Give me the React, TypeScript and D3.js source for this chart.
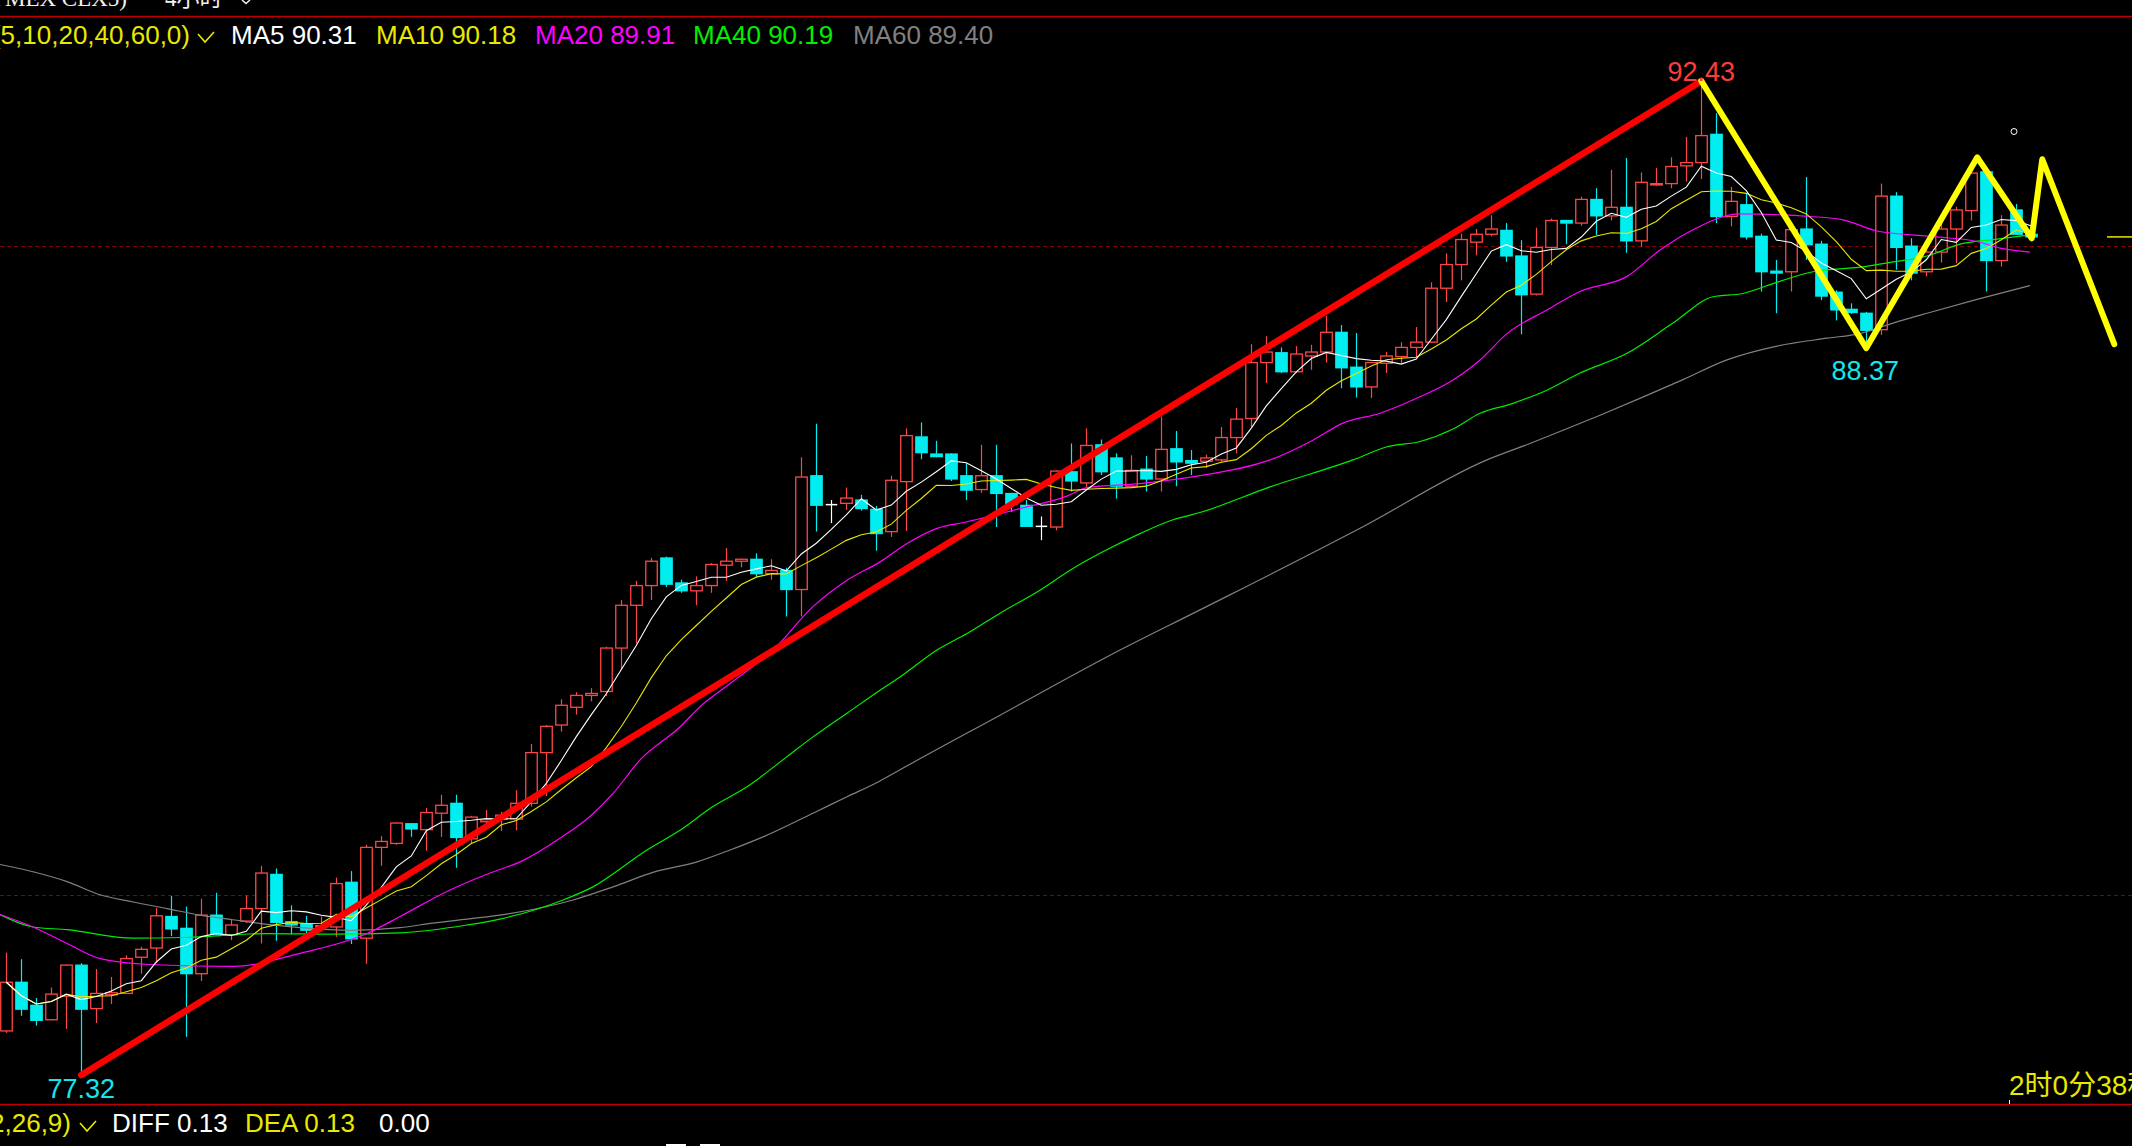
import React from "react";
import * as d3 from "d3";

const W = 2132;
const H = 1146;

// ---- candle data (index 0..135) ----
const opens = [
  77.99, 78.73, 78.38, 78.16, 78.52, 78.99, 78.33, 78.54, 78.56, 79.11,
  79.25, 79.73, 79.55, 78.86, 79.75, 79.45, 79.66, 79.85, 80.37, 79.65,
  79.62, 79.57, 79.57, 80.25, 79.40, 80.78, 80.84, 81.14, 81.05, 81.30,
  81.45, 80.91, 81.17, 81.21, 81.21, 81.45, 82.22, 82.64, 82.91, 83.09,
  83.15, 83.81, 84.46, 84.76, 85.18, 84.80, 84.68, 84.76, 85.07, 85.13,
  85.16, 84.94, 84.99, 84.70, 86.43, 85.99, 86.01, 86.06, 85.92, 85.58,
  86.34, 87.02, 86.76, 86.76, 86.43, 86.22, 86.43, 86.16, 85.98, 85.66,
  85.65, 86.49, 86.32, 86.90, 86.70, 86.27, 86.53, 86.38, 86.84, 86.66,
  86.65, 86.67, 87.01, 87.30, 88.15, 88.30, 88.01, 88.25, 88.31, 88.61,
  88.08, 87.78, 88.14, 88.24, 88.38, 88.46, 89.28, 89.64, 89.98, 90.10,
  90.16, 89.77, 89.19, 89.90, 90.31, 90.27, 90.63, 90.38, 90.51, 90.00,
  90.85, 90.87, 91.14, 91.19, 91.62, 90.37, 90.55, 90.07, 89.54, 89.53,
  90.18, 89.95, 89.22, 88.96, 88.90, 88.65, 90.68, 89.92, 89.53, 89.83,
  90.18, 90.46, 91.05, 89.70, 90.47, 90.10,
];
const highs = [
  79.18, 79.08, 78.49, 78.65, 79.00, 79.02, 78.93, 78.81, 79.14, 79.27,
  79.86, 80.04, 79.88, 80.00, 80.09, 79.68, 80.05, 80.50, 80.46, 79.90,
  79.74, 79.73, 80.32, 80.42, 80.82, 80.95, 81.16, 81.15, 81.38, 81.58,
  81.58, 81.26, 81.35, 81.32, 81.65, 82.35, 82.64, 83.03, 83.14, 83.20,
  83.83, 84.54, 84.83, 85.18, 85.20, 84.85, 84.90, 85.10, 85.33, 85.17,
  85.25, 85.16, 85.03, 86.71, 87.22, 86.06, 86.25, 86.14, 85.97, 86.43,
  87.15, 87.24, 86.96, 86.77, 86.62, 86.90, 86.90, 86.17, 86.06, 85.81,
  86.51, 86.92, 87.15, 86.98, 86.77, 86.74, 86.73, 87.33, 87.11, 86.82,
  86.75, 87.17, 87.46, 88.43, 88.55, 88.38, 88.40, 88.42, 88.86, 88.72,
  88.60, 88.16, 88.31, 88.46, 88.69, 89.37, 89.81, 90.11, 90.18, 90.39,
  90.27, 90.01, 90.20, 90.34, 90.32, 90.67, 90.80, 91.08, 91.26, 91.04,
  91.11, 91.27, 91.58, 92.43, 91.94, 90.82, 90.72, 90.11, 89.71, 90.18,
  90.97, 90.00, 89.25, 89.05, 88.92, 90.87, 90.74, 90.04, 89.87, 90.39,
  90.52, 91.18, 91.09, 90.39, 90.56, 90.14,
];
const lows = [
  77.96, 78.22, 78.07, 78.15, 78.02, 77.32, 78.11, 78.40, 78.55, 78.86,
  79.02, 79.43, 77.90, 78.75, 79.45, 79.37, 79.63, 79.32, 79.36, 79.46,
  79.45, 79.50, 79.42, 79.31, 79.01, 80.50, 80.82, 80.94, 80.73, 80.94,
  80.47, 80.84, 81.04, 81.03, 81.04, 81.40, 81.56, 82.54, 82.80, 83.00,
  83.08, 83.48, 83.88, 84.54, 84.74, 84.65, 84.46, 84.65, 84.83, 85.04,
  84.89, 84.85, 84.29, 84.29, 85.58, 85.71, 85.91, 85.90, 85.29, 85.50,
  85.59, 86.68, 86.71, 86.35, 86.06, 86.17, 85.65, 85.88, 85.65, 85.45,
  85.60, 86.19, 86.26, 86.44, 86.08, 86.24, 86.19, 86.19, 86.27, 86.44,
  86.55, 86.64, 86.77, 87.17, 87.84, 87.99, 87.99, 88.04, 88.15, 87.76,
  87.62, 87.61, 87.99, 88.14, 88.23, 88.45, 89.07, 89.40, 89.78, 90.07,
  89.68, 88.58, 89.17, 89.63, 89.95, 90.23, 90.09, 90.31, 89.82, 89.91,
  90.84, 90.80, 90.90, 90.94, 90.27, 90.22, 90.02, 89.23, 88.90, 89.23,
  89.71, 89.10, 88.79, 88.89, 88.37, 88.57, 89.56, 89.40, 89.46, 89.67,
  89.66, 90.31, 89.23, 89.61, 90.09, 90.04,
];
const closes = [
  78.73, 78.32, 78.15, 78.55, 78.99, 78.32, 78.56, 78.57, 79.09, 79.23,
  79.74, 79.54, 78.86, 79.75, 79.46, 79.60, 79.85, 80.39, 79.64, 79.60,
  79.52, 79.59, 80.23, 79.39, 80.78, 80.87, 81.15, 81.06, 81.31, 81.42,
  80.93, 81.24, 81.20, 81.27, 81.45, 82.22, 82.62, 82.94, 83.09, 83.12,
  83.81, 84.46, 84.76, 85.13, 84.78, 84.68, 84.76, 85.08, 85.13, 85.16,
  84.94, 84.99, 84.70, 86.41, 85.98, 85.99, 86.09, 85.93, 85.55, 86.36,
  87.04, 86.78, 86.72, 86.38, 86.21, 86.43, 86.16, 86.00, 85.66, 85.66,
  86.50, 86.35, 86.89, 86.49, 86.27, 86.51, 86.38, 86.83, 86.64, 86.62,
  86.70, 87.01, 87.29, 88.15, 88.31, 88.01, 88.28, 88.31, 88.61, 88.07,
  87.78, 88.15, 88.25, 88.38, 88.46, 89.28, 89.64, 90.02, 90.10, 90.18,
  89.77, 89.18, 89.90, 90.31, 90.27, 90.63, 90.38, 90.51, 90.00, 90.89,
  90.87, 91.13, 91.19, 91.60, 90.37, 90.60, 90.06, 89.53, 89.51, 90.17,
  89.94, 89.16, 88.95, 88.91, 88.64, 90.68, 89.90, 89.51, 89.83, 90.18,
  90.47, 91.03, 89.70, 90.24, 90.10, 90.06,
];

// ---- longer moving averages at candle positions ----
const ma20Idx = [-0.42, 1.78, 4.05, 6.25, 9.58, 15.11, 19.58, 24.05, 26.25, 29.38, 32.25, 34.25, 36.91, 38.91, 40.45, 42.25, 44.91, 46.25, 48.25, 51.11, 53.78, 56.05, 58.25, 60.05, 62.05, 64.05, 67.58, 70.71, 72.05, 75.58, 79.58, 84.25, 87.11, 89.11, 91.58, 94.25, 96.05, 98.25, 100.05, 102.71, 104.91, 108.05, 110.25, 112.45, 115.58, 120.25, 122.45, 124.71, 128.71, 131.38, 132.91, 134.91];
const ma20Val = [79.76, 79.57, 79.32, 79.09, 79.0, 78.97, 79.17, 79.47, 79.73, 80.11, 80.39, 80.56, 80.92, 81.25, 81.6, 82.11, 82.61, 82.92, 83.27, 83.78, 84.44, 84.84, 85.12, 85.4, 85.63, 85.73, 85.93, 86.12, 86.25, 86.31, 86.43, 86.67, 86.97, 87.23, 87.38, 87.63, 87.83, 88.19, 88.59, 88.95, 89.23, 89.46, 89.86, 90.17, 90.41, 90.37, 90.32, 90.15, 90.06, 89.99, 89.89, 89.83];

const ma40Idx = [-0.42, 1.78, 4.05, 8.45, 11.78, 17.38, 21.78, 26.25, 30.71, 32.91, 37.11, 39.11, 42.71, 44.91, 47.11, 49.38, 52.05, 53.78, 56.05, 58.25, 59.58, 62.05, 64.05, 66.25, 68.91, 71.11, 72.91, 75.58, 77.78, 79.58, 84.25, 89.78, 92.05, 94.25, 96.45, 98.25, 100.45, 102.71, 104.91, 108.05, 111.11, 113.78, 115.78, 117.78, 120.45, 123.58, 125.78, 128.05, 130.25, 132.45, 134.91];
const ma40Val = [79.76, 79.57, 79.53, 79.4, 79.41, 79.47, 79.46, 79.48, 79.6, 79.69, 79.98, 80.18, 80.74, 81.04, 81.4, 81.7, 82.16, 82.46, 82.82, 83.17, 83.37, 83.78, 84.03, 84.34, 84.69, 85.02, 85.25, 85.55, 85.76, 85.87, 86.26, 86.67, 86.87, 86.95, 87.14, 87.38, 87.53, 87.73, 87.99, 88.29, 88.75, 89.15, 89.2, 89.35, 89.53, 89.6, 89.68, 89.77, 89.95, 90.02, 90.09];

const ma60Idx = [-0.42, 1.78, 4.05, 6.25, 8.45, 10.71, 12.91, 15.11, 17.38, 19.58, 22.91, 26.25, 28.45, 30.71, 32.91, 37.78, 40.45, 43.11, 46.05, 48.25, 50.45, 53.78, 56.05, 58.25, 59.58, 66.25, 74.25, 79.58, 90.25, 98.71, 101.58, 103.78, 106.25, 111.78, 114.71, 118.05, 121.38, 123.58, 125.78, 128.05, 131.38, 134.91];
const ma60Val = [80.52, 80.41, 80.26, 80.06, 79.95, 79.85, 79.75, 79.68, 79.61, 79.56, 79.52, 79.56, 79.63, 79.69, 79.75, 79.98, 80.18, 80.4, 80.56, 80.74, 80.94, 81.3, 81.55, 81.79, 81.96, 82.79, 83.78, 84.39, 85.63, 86.67, 86.92, 87.12, 87.35, 87.89, 88.19, 88.4, 88.52, 88.59, 88.75, 88.9, 89.11, 89.32];

// ---- drawn annotations ----
const trendIdx = [5, 113];
const trendVal = [77.32, 92.43];
const zigIdx = [113, 124, 131.4, 135.03, 135.73, 140.53];
const zigVal = [92.43, 88.37, 91.27, 90.04, 91.24, 88.43];
const gridPrices = [89.92, 80.06];

const maNames = ["MA5", "MA10", "MA20", "MA40", "MA60"];
const maLegendValues = ["90.31", "90.18", "89.91", "90.19", "89.40"];
const maColors = ["#ffffff", "#e8e800", "#ff00ff", "#00ee00", "#808080"];
const maLegendX = [231, 376, 535, 693, 853];

const macdNames = ["DIFF", "DEA", ""];
const macdValues = ["0.13", "0.13", "0.00"];
const macdColors = ["#ffffff", "#e8e800", "#ffffff"];
const macdX = [112, 245, 379];

const UP = "#ff4646";
const DOWN = "#00eef0";
const FONT = "'Liberation Sans', Arial, 'Noto Sans CJK SC', sans-serif";
const SERIF = "'Liberation Serif', 'DejaVu Serif', 'Noto Sans CJK SC', serif";

function sma(arr: number[], n: number): number[] {
  return arr.map((_, i) => {
    const s = Math.max(0, i - n + 1);
    return d3.mean(arr.slice(s, i + 1)) as number;
  });
}

export default function App() {
  const x = d3.scaleLinear().domain([0, 135]).range([6.3, 2031.3]);
  const y = d3.scaleLinear().domain([77.32, 92.43]).range([1075, 81]);

  const ma5 = sma(closes, 5);
  const ma10 = sma(closes, 10);

  const lineIdx = d3
    .line<number>()
    .x((_, i) => x(i))
    .y((d) => y(d));

  const pairLine = d3
    .line<[number, number]>()
    .x((d) => x(d[0]))
    .y((d) => y(d[1]))
    .curve(d3.curveMonotoneX);

  const straight = d3
    .line<[number, number]>()
    .x((d) => x(d[0]))
    .y((d) => y(d[1]));

  const zip = (a: number[], b: number[]) => a.map((v, i) => [v, b[i]] as [number, number]);

  const bw = 11.5;

  const candles = opens.map((o, i) => {
    const c = closes[i];
    const h = highs[i];
    const l = lows[i];
    const cx = Math.round(x(i)) + 0.5;
    const yo = y(o);
    const yc = y(c);
    const yh = y(h);
    const yl = y(l);
    if (Math.abs(o - c) < 0.005) {
      return (
        <g key={i}>
          <line x1={cx} x2={cx} y1={yh} y2={yl} stroke="#ffffff" strokeWidth={1.2} />
          <line x1={cx - bw / 2} x2={cx + bw / 2} y1={yo} y2={yo} stroke="#ffffff" strokeWidth={1.5} />
        </g>
      );
    }
    if (c > o) {
      const top = yc;
      const bot = yo;
      return (
        <g key={i}>
          <line x1={cx} x2={cx} y1={yh} y2={top} stroke={UP} strokeWidth={1.2} />
          <line x1={cx} x2={cx} y1={bot} y2={yl} stroke={UP} strokeWidth={1.2} />
          <rect x={cx - bw / 2} y={top} width={bw} height={Math.max(bot - top, 1)} fill="#000" stroke={UP} strokeWidth={1.3} />
        </g>
      );
    }
    const top = yo;
    const bot = yc;
    return (
      <g key={i}>
        <line x1={cx} x2={cx} y1={yh} y2={yl} stroke={DOWN} strokeWidth={1.2} />
        <rect x={cx - bw / 2 - 0.6} y={top - 0.6} width={bw + 1.2} height={Math.max(bot - top, 0.8) + 1.2} fill={DOWN} />
      </g>
    );
  });

  const lastY = y(closes[closes.length - 1]);

  return (
    <div style={{ position: "absolute", left: 0, top: 0, width: W, height: H, background: "#000" }}>
      <svg width={W} height={H} style={{ display: "block", background: "#000" }} fontFamily={FONT}>
        <rect x={0} y={0} width={W} height={H} fill="#000" />

        {/* cut-off title */}
        <text x={127} y={6} fontSize={23} fill="#f0f0f0" textAnchor="end" fontFamily={SERIF}>(NYMEX CLX5)</text>
        <text x={165} y={6} fontSize={23} fill="#f0f0f0" fontFamily={SERIF}>4小时</text>
        <polyline points="242,0 246,3.5 250,0" fill="none" stroke="#f0f0f0" strokeWidth={1.5} />

        {/* frame lines */}
        <line x1={0} x2={W} y1={16.5} y2={16.5} stroke="#c00000" strokeWidth={1.5} />
        <line x1={0} x2={W} y1={1104.5} y2={1104.5} stroke="#c00000" strokeWidth={1.5} />
        {gridPrices.map((p) => (
          <line key={p} x1={0} x2={W} y1={Math.round(y(p)) + 0.5} y2={Math.round(y(p)) + 0.5} stroke="#8a0000" strokeWidth={1} strokeDasharray="4,3" />
        ))}

        {/* legend */}
        <text x={190} y={44} fontSize={26} fill="#e8e800" textAnchor="end">MA(5,10,20,40,60,0)</text>
        <polyline points="198,34 205,42 214,32" fill="none" stroke="#e8e800" strokeWidth={1.6} />
        {maNames.map((n, i) => (
          <text key={n} x={maLegendX[i]} y={44} fontSize={26} fill={maColors[i]}>
            {n} {maLegendValues[i]}
          </text>
        ))}

        {/* candles */}
        {candles}

        {/* moving averages */}
        <path d={pairLine(zip(ma60Idx, ma60Val)) || ""} fill="none" stroke={maColors[4]} strokeWidth={1.2} />
        <path d={pairLine(zip(ma40Idx, ma40Val)) || ""} fill="none" stroke={maColors[3]} strokeWidth={1.2} />
        <path d={pairLine(zip(ma20Idx, ma20Val)) || ""} fill="none" stroke={maColors[2]} strokeWidth={1.2} />
        <path d={lineIdx(ma10) || ""} fill="none" stroke={maColors[1]} strokeWidth={1.1} />
        <path d={lineIdx(ma5) || ""} fill="none" stroke={maColors[0]} strokeWidth={1.1} />

        {/* last price marker */}
        <line x1={2107} x2={W} y1={lastY} y2={lastY} stroke="#e8e800" strokeWidth={1.5} />
        <circle cx={2014} cy={131.5} r={3} fill="none" stroke="#ffffff" strokeWidth={1} />

        {/* drawn trend lines */}
        <path d={straight(zip(trendIdx, trendVal)) || ""} fill="none" stroke="#ff0000" strokeWidth={6.5} strokeLinecap="round" />
        <path d={straight(zip(zigIdx, zigVal)) || ""} fill="none" stroke="#ffff00" strokeWidth={6} strokeLinecap="round" strokeLinejoin="round" />

        {/* extreme labels */}
        <text x={x(113)} y={81} fontSize={27} fill="#ff3c3c" textAnchor="middle">{trendVal[1].toFixed(2)}</text>
        <text x={x(5)} y={1098} fontSize={27} fill="#14e6ee" textAnchor="middle">{trendVal[0].toFixed(2)}</text>
        <text x={x(124) - 1} y={380} fontSize={27} fill="#14e6ee" textAnchor="middle">{zigVal[1].toFixed(2)}</text>

        {/* timer */}
        <text x={2009} y={1095} fontSize={28} fill="#e8e800">2时0分38秒</text>
        <line x1={2009.5} x2={2009.5} y1={1100} y2={1104} stroke="#ffffff" strokeWidth={1} />

        {/* MACD legend */}
        <text x={71} y={1132} fontSize={26} fill="#e8e800" textAnchor="end">MACD(12,26,9)</text>
        <polyline points="80,1123 87,1131 96,1121" fill="none" stroke="#e8e800" strokeWidth={1.6} />
        {macdNames.map((n, i) => (
          <text key={i} x={macdX[i]} y={1132} fontSize={26} fill={macdColors[i]}>
            {n ? `${n} ${macdValues[i]}` : macdValues[i]}
          </text>
        ))}
        <rect x={666} y={1144} width={20} height={2} fill="#ffffff" />
        <rect x={700} y={1144} width={20} height={2} fill="#ffffff" />
      </svg>
    </div>
  );
}
